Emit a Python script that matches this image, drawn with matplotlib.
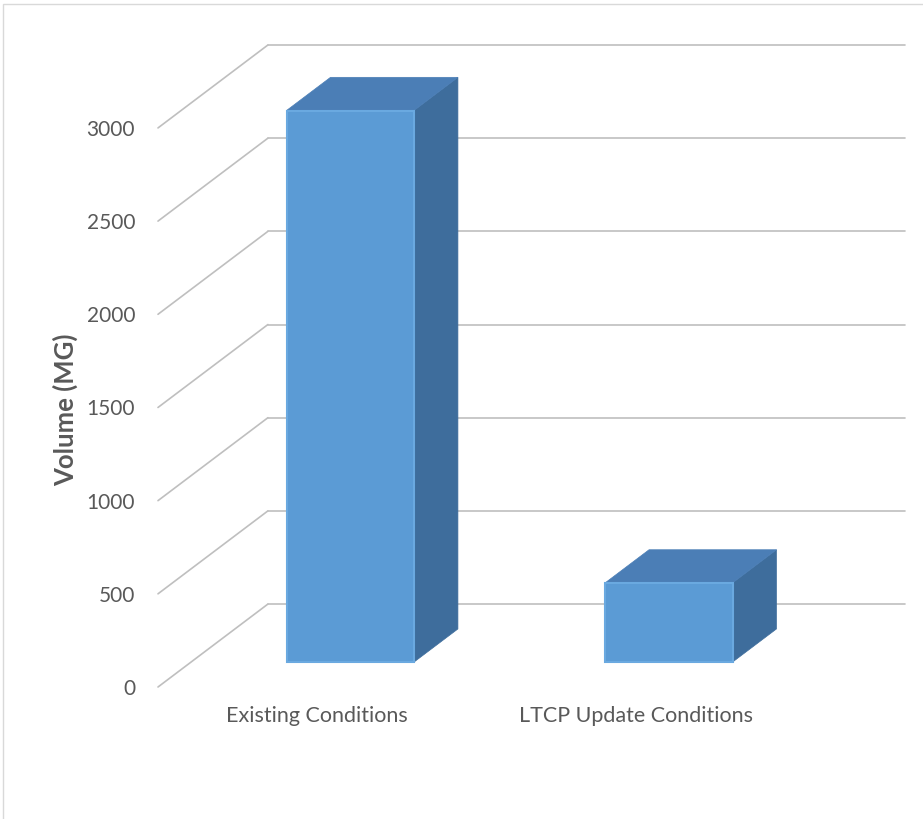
import matplotlib.pyplot as plt
from matplotlib.patches import Polygon, Rectangle

categories = ["Existing Conditions", "LTCP Update Conditions"]
volumes = [2960, 425]
y_ticks = [0, 500, 1000, 1500, 2000, 2500, 3000]
y_label = "Volume (MG)"

W, H, DPI = 923, 819, 100

# oblique projection of the depth axis, in data units per unit depth
DEPTH_X = 0.345
DEPTH_Y = 445
BAR_WIDTH = 0.4
BAR_D0, BAR_D1 = 0.3, 0.7

FRONT = "#5b9bd5"
TOP = "#4b7eb6"
SIDE = "#3e6d9c"
GRID = "#bfbfbf"
TEXT = "#595959"


def proj(x, v, d):
    return x + d * DEPTH_X, v + d * DEPTH_Y


plt.rcParams['font.family'] = ['Lato', 'DejaVu Sans']

fig = plt.figure(figsize=(W / DPI, H / DPI), dpi=DPI)
ax = fig.add_axes([158 / W, 1 - 687 / H, (905 - 158) / W, (687 - 45) / H])
ax.set_xlim(0, len(categories) + DEPTH_X)
ax.set_ylim(0, y_ticks[-1] + DEPTH_Y)

# walls: oblique lines on the left, horizontal lines on the back
for v in y_ticks:
    (x0, y0), (x1, y1) = proj(0, v, 0), proj(0, v, 1)
    ax.plot([x0, x1], [y0, y1], color=GRID, lw=1.2, zorder=1,
            solid_capstyle='round', clip_on=False)
    ax.plot([x1, len(categories) + DEPTH_X], [y1, y1], color=GRID, lw=1.2,
            zorder=1, solid_capstyle='round', clip_on=False)

# 3d columns
for i, val in enumerate(volumes):
    xa = i + (1 - BAR_WIDTH) / 2
    xb = xa + BAR_WIDTH
    side = [proj(xb, 0, BAR_D0), proj(xb, 0, BAR_D1),
            proj(xb, val, BAR_D1), proj(xb, val, BAR_D0)]
    top = [proj(xa, val, BAR_D0), proj(xb, val, BAR_D0),
           proj(xb, val, BAR_D1), proj(xa, val, BAR_D1)]
    front = [proj(xa, 0, BAR_D0), proj(xb, 0, BAR_D0),
             proj(xb, val, BAR_D0), proj(xa, val, BAR_D0)]
    ax.add_patch(Polygon(side, closed=True, facecolor=SIDE, edgecolor=SIDE,
                         lw=0.5, zorder=3))
    ax.add_patch(Polygon(top, closed=True, facecolor=TOP, edgecolor=TOP,
                         lw=0.5, zorder=3))
    ax.add_patch(Polygon(front, closed=True, facecolor=FRONT,
                         edgecolor="#6aa9e0", lw=1.5, zorder=4))

ax.set_xticks([i + 0.5 for i in range(len(categories))])
ax.set_xticklabels(categories)
ax.set_yticks(y_ticks)
ax.set_yticklabels([str(t) for t in y_ticks])
ax.tick_params(axis='x', length=0, pad=14, labelsize=15.5, labelcolor=TEXT)
ax.tick_params(axis='y', length=0, pad=16.5, labelsize=15, labelcolor=TEXT)
for s in ax.spines.values():
    s.set_visible(False)
ax.patch.set_visible(False)

fig.text(65 / W, 1 - 410 / H, y_label, rotation=90, ha='center', va='center',
         fontsize=18.5, fontweight='bold', color=TEXT)

# chart area border
fig.patches.append(Rectangle((3 / W, -0.1), 1.2, 1 - 4 / H + 0.1,
                             transform=fig.transFigure, fill=False,
                             edgecolor="#d9d9d9", lw=1))

fig.savefig("out.png", dpi=DPI)
